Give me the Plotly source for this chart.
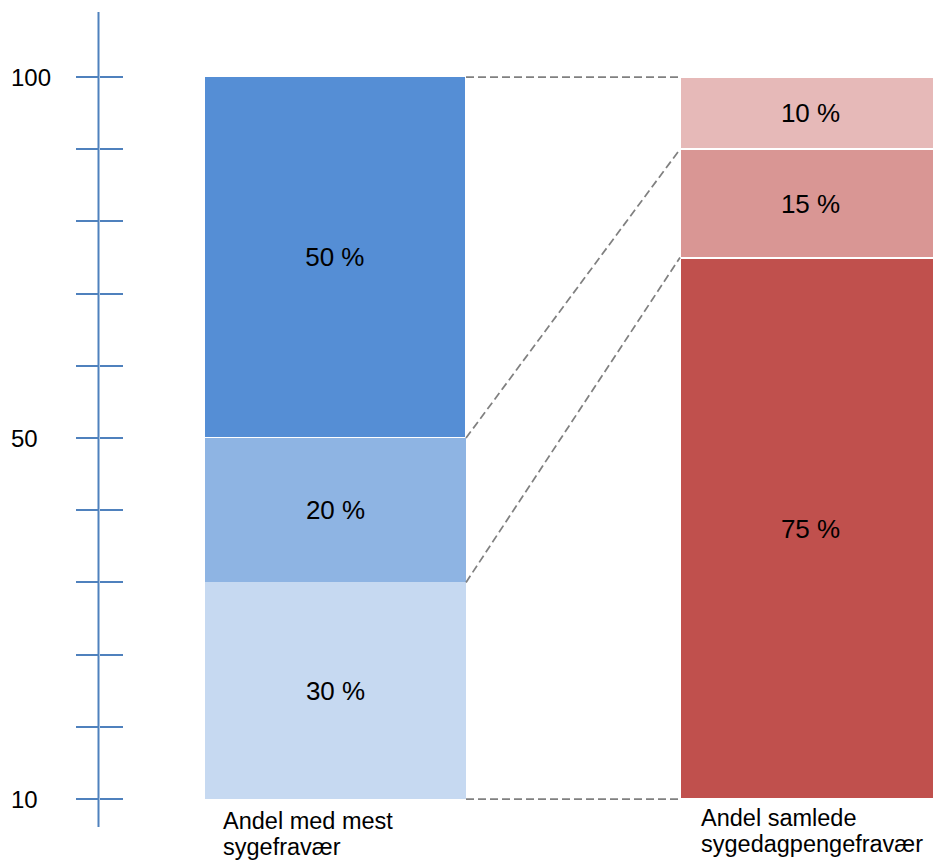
import plotly.graph_objects as go

# ---- data ----
categories = ["Andel med mest<br>sygefravær", "Andel samlede<br>sygedagpengefravær"]
left_values = [30, 20, 50]          # bottom -> top
right_values = [75, 15, 10]         # bottom -> top
left_labels = ["30 %", "20 %", "50 %"]
right_labels = ["75 %", "15 %", "10 %"]
axis_tick_vals = [0, 10, 20, 30, 40, 50, 60, 70, 80, 90, 100]
axis_label_vals = [0, 50, 100]
axis_label_text = ["10", "50", "100"]

# ---- styles ----
left_colors = ["#C6D9F1", "#8EB4E3", "#558ED5"]
right_colors = ["#C0504D", "#D99694", "#E6B9B8"]
left_line_w = [0, 0, 1.3]
right_line_w = [2, 2, 2]
FONT = "Liberation Sans, Arial, sans-serif"
AXIS_BLUE = "#4F81BD"

W, H = 933, 861
px_per_unit = 7.22
y_top = 100 + 77 / px_per_unit
y_bot = -(H - 799) / px_per_unit
bar_w = 261 / 475
x_lo = -335.5 / 475
x_hi = 1 + (W - 810.5) / 475
axis_x = 98.5 / W

fig = go.Figure()

for vals, labels, colors, lws, xpos in [
    (left_values, left_labels, left_colors, left_line_w, 0),
    (right_values, right_labels, right_colors, right_line_w, 1),
]:
    for v, lab, c, lw in zip(vals, labels, colors, lws):
        fig.add_trace(go.Bar(
            x=[xpos], y=[v], width=bar_w,
            marker=dict(color=c, line=dict(color="white", width=lw)),
            text=[lab], textposition="inside", insidetextanchor="middle",
            textangle=0,
            textfont=dict(size=26, color="black", family=FONT),
            hoverinfo="skip", showlegend=False,
        ))

# connector dashed lines from cumulative boundaries
def cum(vals):
    out = [0]
    for v in vals:
        out.append(out[-1] + v)
    return out

lc = cum(left_values)   # 0,30,50,100
rc = cum(right_values)  # 0,75,90,100
for a, b in zip(lc, rc):
    fig.add_trace(go.Scatter(
        x=[0 + bar_w / 2, 1 - bar_w / 2], y=[a, b], mode="lines",
        line=dict(color="#808080", width=1.75, dash="8px,4px"),
        hoverinfo="skip", showlegend=False,
    ))

# invisible trace for the mirror axis
fig.add_trace(go.Scatter(x=[0], y=[0], yaxis="y2", mode="markers",
                         marker=dict(opacity=0), hoverinfo="skip", showlegend=False))

# axis vertical line
fig.add_shape(type="line", xref="paper", yref="y",
              x0=axis_x, x1=axis_x, y0=-(827 - 799) / px_per_unit,
              y1=100 + (77 - 12) / px_per_unit,
              line=dict(color=AXIS_BLUE, width=2))

# axis labels
for v, t in zip(axis_label_vals, axis_label_text):
    fig.add_annotation(x=9 / W, xref="paper", xanchor="left",
                       y=v, yref="y", yanchor="middle", text=t, showarrow=False,
                       font=dict(size=24, color="black", family=FONT))

# category labels (left-aligned, two lines)
cat_x = [221, 699]
cat_y = [[821, 847], [818, 844]]
for cx, cys, cat in zip(cat_x, cat_y, categories):
    for cy, line in zip(cys, cat.split("<br>")):
        fig.add_annotation(x=cx / W, xref="paper", xanchor="left",
                           y=1 - cy / H, yref="paper", yanchor="middle",
                           text=line, showarrow=False,
                           font=dict(size=23.5, color="black", family=FONT))

fig.update_layout(
    width=W, height=H,
    margin=dict(l=0, r=0, t=0, b=0),
    barmode="stack",
    bargap=0,
    plot_bgcolor="white", paper_bgcolor="white",
    showlegend=False,
    xaxis=dict(range=[x_lo, x_hi], visible=False, fixedrange=True),
    yaxis=dict(range=[y_bot, y_top], anchor="free", position=axis_x,
               tickvals=axis_tick_vals, ticks="outside", ticklen=23,
               tickwidth=2, tickcolor=AXIS_BLUE, showticklabels=False,
               showgrid=False, zeroline=False, showline=False, fixedrange=True),
    yaxis2=dict(range=[y_bot, y_top], overlaying="y", side="right",
                anchor="free", position=axis_x,
                tickvals=axis_tick_vals, ticks="outside", ticklen=23,
                tickwidth=2, tickcolor=AXIS_BLUE, showticklabels=False,
                showgrid=False, zeroline=False, showline=False, fixedrange=True),
    font=dict(family=FONT),
)

fig.write_html("out.html")
